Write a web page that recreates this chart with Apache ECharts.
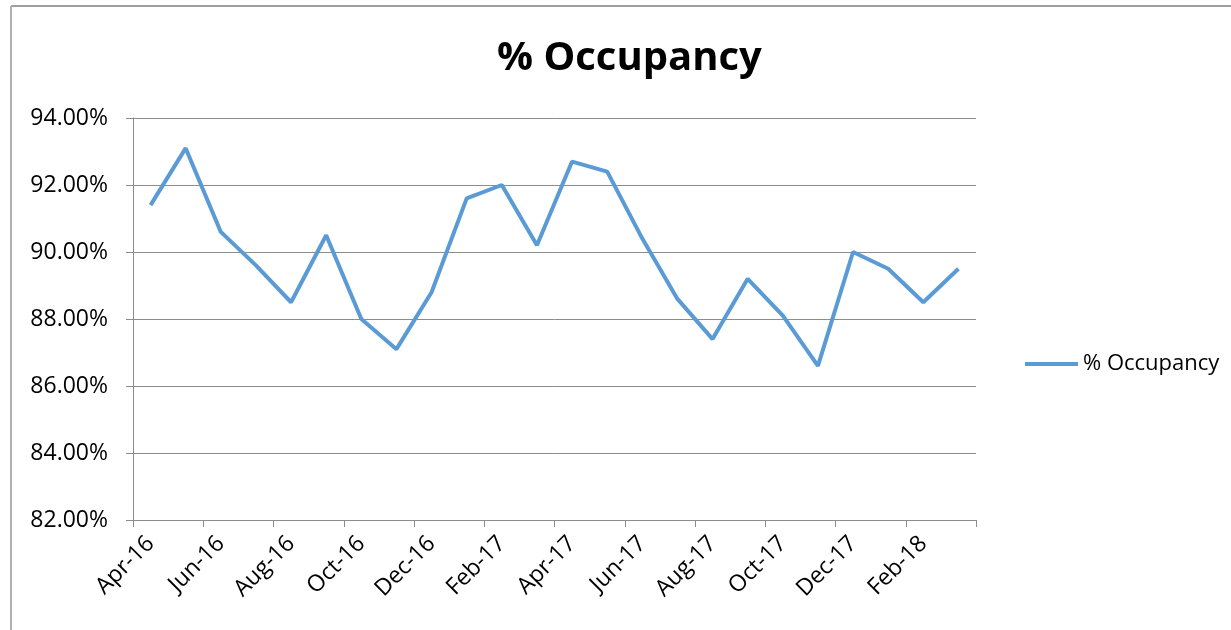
<!DOCTYPE html>
<html>
<head>
<meta charset="utf-8">
<title>% Occupancy</title>
<script src="https://cdn.jsdelivr.net/npm/echarts@6/dist/echarts.min.js"></script>
<style>
    html, body { margin: 0; padding: 0; background: #fff; }
    #chart { width: 1231px; height: 630px; }
</style>
</head>
<body>
<div id="chart"></div>
<script>
// 月份
var months = ['Apr-16', 'May-16', 'Jun-16', 'Jul-16', 'Aug-16', 'Sep-16', 'Oct-16', 'Nov-16',
    'Dec-16', 'Jan-17', 'Feb-17', 'Mar-17', 'Apr-17', 'May-17', 'Jun-17', 'Jul-17',
    'Aug-17', 'Sep-17', 'Oct-17', 'Nov-17', 'Dec-17', 'Jan-18', 'Feb-18', 'Mar-18'];

// 入住率 (%)
var occupancy = [91.4, 93.1, 90.6, 89.6, 88.5, 90.5, 88.0, 87.1,
    88.8, 91.6, 92.0, 90.2, 92.7, 92.4, 90.4, 88.6,
    87.4, 89.2, 88.1, 86.6, 90.0, 89.5, 88.5, 89.5];

// y轴刻度
var yTicks = [82, 84, 86, 88, 90, 92, 94];

var seriesName = '% Occupancy';
var myLine;

window.onload = function () {
    myLine = echarts.init(document.getElementById('chart'));
    drawLine();
}

window.onresize = function () {
    myLine.resize();
}

function drawLine() {
    var font = '"Open Sans", "Liberation Sans", sans-serif';
    var gray = '#8c8c8c';

    var option = {
        backgroundColor: '#fff',
        animation: false,
        textStyle: { fontFamily: font },
        title: {
            text: seriesName,
            left: 492,
            top: 34,
            textStyle: {
                fontSize: 40,
                fontWeight: 'bold',
                color: '#000',
                fontFamily: font
            }
        },
        legend: {
            data: [seriesName],
            orient: 'vertical',
            left: 1020,
            top: 348,
            icon: 'rect',
            itemWidth: 53,
            itemHeight: 4,
            itemGap: 4,
            textStyle: { fontSize: 22, color: '#000', fontFamily: font }
        },
        grid: {
            left: 133,
            right: 255,
            top: 118,
            bottom: 110
        },
        xAxis: {
            type: 'category',
            data: months,
            boundaryGap: true,
            axisLine: { show: true, lineStyle: { color: gray, width: 1 } },
            axisTick: { show: true, interval: 1, length: 7, lineStyle: { color: gray, width: 1 } },
            axisLabel: {
                interval: 1,
                rotate: 45,
                margin: 20,
                fontSize: 23,
                color: '#000',
                fontFamily: font
            },
            splitLine: { show: false }
        },
        yAxis: {
            type: 'value',
            min: yTicks[0],
            max: yTicks[yTicks.length - 1],
            interval: 2,
            axisLine: { show: true, lineStyle: { color: gray, width: 1 } },
            axisTick: { show: true, length: 7, lineStyle: { color: gray } },
            axisLabel: {
                margin: 25,
                fontSize: 23,
                color: '#000',
                fontFamily: font,
                formatter: function (v) {
                    return v.toFixed(2) + '%';
                }
            },
            splitLine: { lineStyle: { color: gray, width: 1 } }
        },
        series: [{
            name: seriesName,
            type: 'line',
            symbol: 'none',
            data: occupancy,
            lineStyle: { color: '#5B9BD5', width: 4 },
            itemStyle: { color: '#5B9BD5' }
        }],
        // 外边框
        graphic: [{
            type: 'line',
            shape: { x1: 11, y1: 6, x2: 1231, y2: 6 },
            style: { stroke: '#a0a0a0', lineWidth: 2 }
        }, {
            type: 'line',
            shape: { x1: 11, y1: 6, x2: 11, y2: 630 },
            style: { stroke: '#b0b0b0', lineWidth: 2 }
        }]
    };

    myLine.setOption(option);
}
</script>
</body>
</html>
